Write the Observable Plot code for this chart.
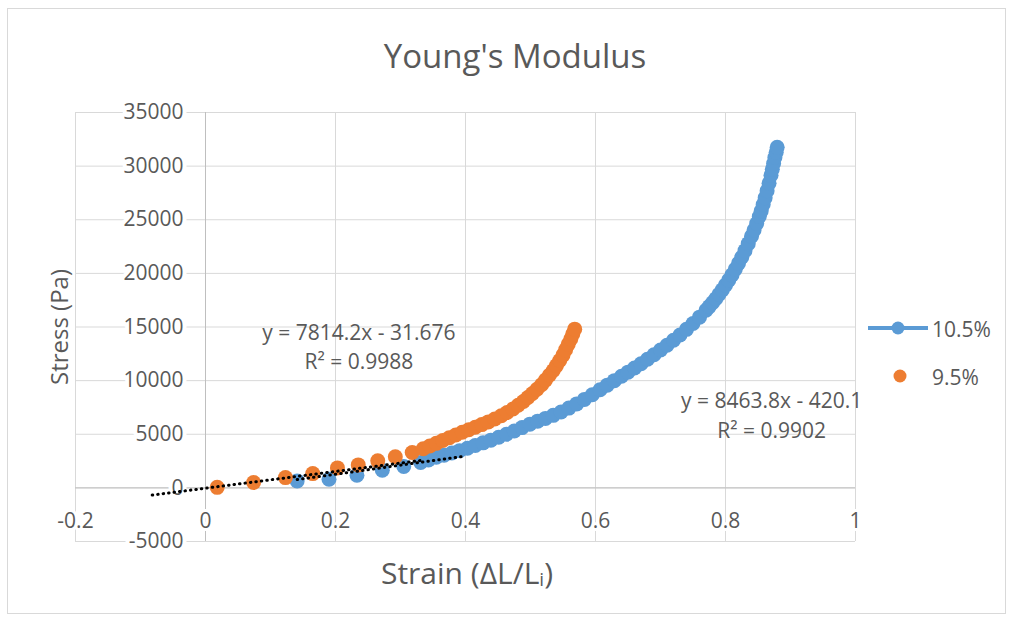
<!DOCTYPE html>
<html><head><meta charset="utf-8">
<script src="https://cdn.jsdelivr.net/npm/d3@7"></script>
<script src="https://cdn.jsdelivr.net/npm/@observablehq/plot@0.6"></script>
<style>
body{margin:0;background:#fff;}
#chart{position:relative;width:1010px;height:618px;}
#border{position:absolute;left:7px;top:8px;width:999px;height:606px;border:1.5px solid #d9d9d9;box-sizing:border-box;pointer-events:none}
</style></head><body><div id="chart"><div id="border"></div></div>
<script>
// ---- data ----
const chartTitle = "Young's Modulus";
const xTitle = "Strain (ΔL/L";
const yTitle = "Stress (Pa)";
const seriesNames = ["10.5%", "9.5%"];

const xTicks = [-0.2, 0, 0.2, 0.4, 0.6, 0.8, 1];
const xTickLabels = ["-0.2", "0", "0.2", "0.4", "0.6", "0.8", "1"];
const yTicks = [-5000, 0, 5000, 10000, 15000, 20000, 25000, 30000, 35000];

// 10.5% series
const blueX = [0.141,0.190,0.233,0.272,0.305,0.331,0.343,0.355,0.367,0.379,0.391,0.403,0.415,0.427,0.439,0.451,0.463,0.475,0.487,0.499,0.511,0.523,0.535,0.547,0.559,0.571,0.583,0.595,0.607,0.618,0.629,0.640,0.650,0.660,0.670,0.680,0.690,0.700,0.710,0.720,0.730,0.740,0.750,0.760,0.770,0.775,0.780,0.785,0.790,0.795,0.800,0.805,0.810,0.815,0.820,0.825,0.830,0.835,0.840,0.844,0.848,0.852,0.855,0.858,0.861,0.864,0.867,0.870,0.872,0.874,0.876,0.878,0.8795];
const blueY = [650,810,1180,1650,2000,2360,2600,2850,3050,3250,3470,3700,3950,4200,4450,4720,5000,5300,5620,5940,6220,6480,6760,7080,7440,7830,8250,8680,9150,9580,10000,10410,10790,11180,11580,11990,12410,12850,13300,13770,14260,14780,15330,15920,16560,16900,17260,17640,18040,18460,18900,19370,19860,20380,20930,21510,22120,22770,23460,24040,24650,25300,25830,26420,27050,27700,28400,29150,29700,30250,30800,31300,31750];

// 9.5% series
const orangeX = [0.018,0.074,0.123,0.165,0.203,0.235,0.265,0.292,0.318,0.335,0.345,0.355,0.365,0.375,0.385,0.395,0.405,0.415,0.425,0.435,0.445,0.455,0.464,0.473,0.481,0.489,0.496,0.503,0.510,0.517,0.523,0.529,0.535,0.540,0.545,0.550,0.554,0.558,0.562,0.565,0.568];
const orangeY = [50,495,960,1330,1860,2140,2520,2900,3300,3650,3900,4150,4420,4680,4930,5180,5420,5650,5900,6150,6420,6720,7030,7360,7700,8060,8420,8800,9200,9620,10050,10500,10950,11400,11880,12380,12880,13380,13880,14350,14800];

// linear trendlines (slope, intercept, extent)
const trendSlope = [8463.8, 7814.2];
const trendIntercept = [-420.1, -31.676];
const trendStart = [0.141, -0.082];
const trendEnd = [0.40, 0.335];
const trendEq = ["y = 8463.8x - 420.1", "y = 7814.2x - 31.676"];
const trendR2 = ["R² = 0.9902", "R² = 0.9988"];

// ---- build ----
const BLUE = "#5B9BD5", ORANGE = "#ED7D31", TXT = "#595959", GRID = "#d9d9d9";
const FONT = "'Open Sans', sans-serif";

const blue = blueX.map((x, i) => ({x, y: blueY[i]}));
const orange = orangeX.map((x, i) => ({x, y: orangeY[i]}));
const trends = [];
trendSlope.forEach((m, k) => {
  [trendStart[k], trendEnd[k]].forEach(x => trends.push({k, x, y: m * x + trendIntercept[k]}));
});
// label anchors (data space)
const labelPos = [{x: 0.871, y1: 8070, y2: 5270}, {x: 0.236, y1: 14410, y2: 11710}];
const labels = [];
trendEq.forEach((t, k) => {
  labels.push({x: labelPos[k].x, y: labelPos[k].y1, t});
  labels.push({x: labelPos[k].x, y: labelPos[k].y2, t: trendR2[k]});
});

const svg = Plot.plot({
  width: 1010, height: 618,
  marginLeft: 75, marginRight: 155, marginTop: 112, marginBottom: 77,
  x: {domain: [-0.2, 1], axis: null},
  y: {domain: [-5000, 35000], axis: null},
  style: {fontFamily: FONT, background: "transparent"},
  marks: [
    Plot.gridX(xTicks, {stroke: GRID, strokeOpacity: 1}),
    Plot.gridY(yTicks, {stroke: GRID, strokeOpacity: 1}),
    Plot.ruleX([0], {stroke: "#bfbfbf"}),
    Plot.ruleY([0], {stroke: "#bfbfbf"}),
    Plot.text(yTicks, {x: 0, y: d => d, text: d => String(d), textAnchor: "end", dx: -22, fontSize: 21, fill: TXT, stroke: "white", strokeWidth: 8, paintOrder: "stroke"}),
    Plot.text(xTicks, {x: d => d, y: 0, text: (d, i) => xTickLabels[i], dy: 33, fontSize: 21, fill: TXT, stroke: "white", strokeWidth: 6, paintOrder: "stroke"}),
    Plot.dot(blue, {x: "x", y: "y", r: 7.5, fill: BLUE}),
    Plot.dot(orange, {x: "x", y: "y", r: 7.5, fill: ORANGE}),
    Plot.line(trends, {x: "x", y: "y", z: "k", stroke: "#000", strokeWidth: 3, strokeDasharray: "0.5,5", strokeLinecap: "round"}),
    Plot.text(labels, {x: "x", y: "y", text: "t", fontSize: 21, fill: TXT})
  ]
});

const g = d3.select(svg).append("g").attr("font-family", FONT).attr("fill", TXT);
g.append("text").attr("x", 515).attr("y", 55).attr("text-anchor", "middle").attr("dominant-baseline", "central").attr("font-size", 33).text(chartTitle);
const xt = g.append("text").attr("x", 467).attr("y", 572).attr("text-anchor", "middle").attr("dominant-baseline", "central").attr("font-size", 30).text(xTitle);
xt.append("tspan").attr("font-size", 19).attr("dy", 7).text("i");
xt.append("tspan").attr("dy", -7).text(")");
g.append("text").attr("transform", "translate(58,327) rotate(-90)").attr("text-anchor", "middle").attr("dominant-baseline", "central").attr("font-size", 24).text(yTitle);
// legend
g.append("line").attr("x1", 868).attr("x2", 928).attr("y1", 328).attr("y2", 328).attr("stroke", BLUE).attr("stroke-width", 4);
g.append("circle").attr("cx", 898).attr("cy", 328).attr("r", 6.5).attr("fill", BLUE);
g.append("circle").attr("cx", 900).attr("cy", 376).attr("r", 6.5).attr("fill", ORANGE);
g.append("text").attr("x", 932).attr("y", 329).attr("text-anchor", "start").attr("dominant-baseline", "central").attr("font-size", 21).text(seriesNames[0]);
g.append("text").attr("x", 932).attr("y", 377).attr("text-anchor", "start").attr("dominant-baseline", "central").attr("font-size", 21).text(seriesNames[1]);

document.getElementById("chart").prepend(svg);
svg.style.position = "absolute"; svg.style.left = "0"; svg.style.top = "0";
</script></body></html>
